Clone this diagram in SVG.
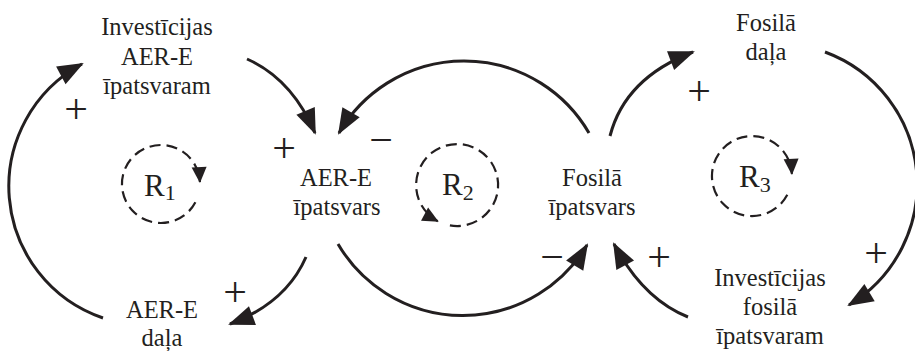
<svg xmlns="http://www.w3.org/2000/svg" width="915" height="351" viewBox="0 0 915 351">
  <style>
    text { font-family: 'Liberation Serif', 'Times New Roman', 'DejaVu Serif', serif; fill: #231f20; }
    .lbl { font-size: 24.5px; text-anchor: middle; }
    .sign { font-size: 42px; text-anchor: middle; }
    .loopname { font-size: 31px; }
    .sub { font-size: 22px; }
    .link { fill: none; stroke: #231f20; stroke-width: 3; marker-end: url(#head); }
    .loop { fill: none; stroke: #231f20; stroke-width: 2.2; stroke-dasharray: 11 6; marker-end: url(#loophead); }
  </style>
  <defs>
    <marker id="head" markerUnits="userSpaceOnUse" markerWidth="32" markerHeight="26" viewBox="-28 -13 32 26" refX="-2" refY="0" orient="auto">
      <path d="M0,0 L-26,-10 L-26,10 Z" fill="#231f20"/>
    </marker>
    <marker id="loophead" markerUnits="userSpaceOnUse" markerWidth="22" markerHeight="20" viewBox="-19 -10 22 20" refX="-1" refY="0" orient="auto">
      <path d="M0,0 L-16,-7.5 L-16,7.5 Z" fill="#231f20"/>
    </marker>
  </defs>

  <!-- causal links -->
  <g id="links">
    <path class="link" d="M247,59 Q292,79 315,133"/>
    <path class="link" d="M589,133 A144.5,144.5 0 0 0 339,133"/>
    <path class="link" d="M306,257 Q286,303 230,324"/>
    <path class="link" d="M103,318 A139,139 0 0 1 82,64"/>
    <path class="link" d="M338,244 A144.7,144.7 0 0 0 587,245"/>
    <path class="link" d="M610,136 Q625,78 693,52"/>
    <path class="link" d="M825,52 A141,141 0 0 1 849,305"/>
    <path class="link" d="M688,317 Q643,299 614,244"/>
  </g>

  <!-- link polarities -->
  <g id="polarities">
    <text class="sign" x="284" y="162">+</text>
    <text class="sign" x="76" y="123">+</text>
    <text class="sign" x="381" y="154">−</text>
    <text class="sign" x="235" y="306">+</text>
    <text class="sign" x="552" y="271">−</text>
    <text class="sign" x="699" y="105">+</text>
    <text class="sign" x="659" y="271">+</text>
    <text class="sign" x="876" y="267">+</text>
  </g>

  <!-- variables -->
  <g id="inv-aer">
    <text class="lbl" x="157" y="35">Investīcijas</text>
    <text class="lbl" x="157" y="65">AER-E</text>
    <text class="lbl" x="157" y="94">īpatsvaram</text>
  </g>
  <g id="aer-ipatsvars">
    <text class="lbl" x="336" y="186">AER-E</text>
    <text class="lbl" x="337" y="215">īpatsvars</text>
  </g>
  <g id="fos-ipatsvars">
    <text class="lbl" x="592" y="186">Fosilā</text>
    <text class="lbl" x="592" y="215">īpatsvars</text>
  </g>
  <g id="fos-dala">
    <text class="lbl" x="766" y="31">Fosilā</text>
    <text class="lbl" x="766" y="60">daļa</text>
  </g>
  <g id="inv-fos">
    <text class="lbl" x="770" y="286">Investīcijas</text>
    <text class="lbl" x="770" y="315">fosilā</text>
    <text class="lbl" x="770" y="344">īpatsvaram</text>
  </g>
  <g id="aer-dala">
    <text class="lbl" x="162" y="318">AER-E</text>
    <text class="lbl" x="162" y="346">daļa</text>
  </g>

  <!-- reinforcing loop markers -->
  <g id="loop-r1">
    <path class="loop" d="M195.4,202.3 A39,39 0 1 1 199.9,182"/>
    <text class="loopname" x="144" y="196">R<tspan class="sub" dy="4">1</tspan></text>
  </g>
  <g id="loop-r2">
    <path class="loop" d="M449.9,225.4 A41,41 0 1 0 437.8,221.2"/>
    <text class="loopname" x="442" y="195">R<tspan class="sub" dy="5">2</tspan></text>
  </g>
  <g id="loop-r3">
    <path class="loop" d="M787.3,194.8 A40,40 0 1 1 791.9,173.9"/>
    <text class="loopname" x="739" y="187">R<tspan class="sub" dy="5">3</tspan></text>
  </g>
</svg>
